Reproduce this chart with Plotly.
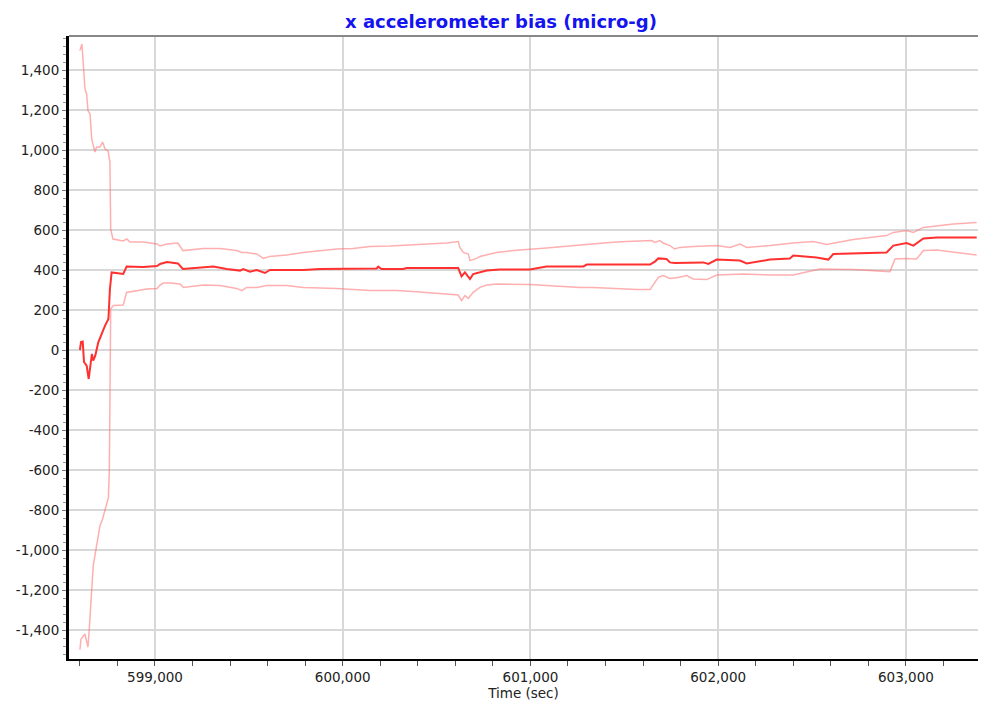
import plotly.graph_objects as go

# ---- data ----
center_t = [598600, 598606, 598615, 598622, 598636, 598647, 598657, 598664, 598671, 598682,
            598698, 598716, 598725, 598734, 598752, 598760, 598769, 598831, 598849, 598903,
            598936, 599011, 599027, 599064, 599122, 599149, 599257, 599311, 599382, 599453,
            599470, 599506, 599542, 599586, 599612, 599790, 599879, 600181, 600189, 600207,
            600322, 600341, 600615, 600624, 600633, 600651, 600678, 600695, 600731, 600767,
            600837, 600997, 601086, 601282, 601300, 601637, 601663, 601681, 601725, 601743,
            601769, 601921, 601948, 601992, 602116, 602152, 602276, 602382, 602400, 602524,
            602587, 602613, 602897, 602933, 603004, 603040, 603093, 603164, 603377]
center_v = [0, 40, 42, -60, -78, -145, -70, -20, -53, -28,
            38, 80, 105, 122, 155, 305, 388, 380, 418, 418,
            415, 420, 430, 440, 433, 405, 413, 418, 405, 397,
            405, 392, 400, 385, 400, 400, 405, 408, 417, 405,
            405, 410, 410, 388, 368, 388, 355, 380, 388, 397,
            403, 403, 417, 418, 427, 427, 442, 458, 455, 438,
            435, 438, 430, 452, 447, 433, 452, 458, 472, 463,
            452, 480, 488, 522, 535, 522, 558, 563, 563]

upper_t = [598600, 598611, 598627, 598636, 598643, 598654, 598663, 598671, 598680, 598689,
           598707, 598721, 598734, 598750, 598760, 598764, 598776, 598830, 598850, 598867,
           598936, 599011, 599027, 599064, 599122, 599149, 599186, 599257, 599346, 599435,
           599462, 599488, 599542, 599577, 599612, 599701, 599790, 599879, 599968, 600055,
           600145, 600252, 600376, 600465, 600554, 600615, 600624, 600642, 600669, 600678,
           600713, 600731, 600820, 600908, 600997, 601086, 601175, 601264, 601335, 601423,
           601512, 601601, 601646, 601663, 601690, 601707, 601743, 601769, 601796, 601867,
           601992, 602063, 602116, 602152, 602276, 602400, 602506, 602578, 602719, 602897,
           602933, 603004, 603040, 603093, 603253, 603377]
upper_v = [1497, 1530, 1305, 1280, 1197, 1180, 1055, 1015, 990, 1015,
           1015, 1040, 1005, 995, 940, 605, 555, 545, 555, 540,
           540, 530, 520, 530, 535, 497, 502, 508, 508, 497,
           488, 488, 480, 458, 468, 475, 488, 497, 505, 508,
           517, 520, 525, 530, 535, 542, 513, 488, 480, 447,
           458, 468, 488, 497, 505, 510, 517, 525, 530, 538,
           542, 547, 547, 538, 547, 535, 522, 505, 513, 517,
           522, 513, 530, 513, 522, 535, 542, 527, 552, 572,
           588, 597, 588, 613, 630, 638]

lower_t = [598600, 598606, 598627, 598643, 598650, 598663, 598671, 598686, 598692, 598707,
           598721, 598734, 598752, 598757, 598760, 598764, 598778, 598831, 598849, 598903,
           598956, 599011, 599027, 599044, 599080, 599133, 599151, 599257, 599346, 599435,
           599462, 599488, 599542, 599595, 599701, 599790, 599968, 600145, 600287, 600376,
           600465, 600554, 600615, 600633, 600651, 600669, 600695, 600731, 600767, 600820,
           600908, 600997, 601086, 601175, 601264, 601335, 601423, 601566, 601637, 601663,
           601681, 601707, 601743, 601787, 601832, 601867, 601939, 601992, 602134, 602276,
           602400, 602542, 602719, 602915, 602942, 603004, 603057, 603093, 603164, 603377]
lower_v = [-1498, -1445, -1420, -1485, -1395, -1228, -1078, -995, -962, -878,
           -845, -795, -737, -595, -228, 205, 222, 225, 288, 297,
           305, 308, 325, 335, 335, 330, 313, 325, 322, 308,
           297, 313, 313, 322, 322, 313, 308, 297, 297, 292,
           285, 280, 275, 247, 272, 258, 288, 313, 325, 330,
           330, 327, 322, 317, 312, 313, 308, 302, 302, 338,
           363, 372, 358, 363, 372, 355, 352, 375, 380, 375,
           375, 405, 402, 392, 455, 458, 455, 497, 500, 475]

x_tick_vals = [599000, 600000, 601000, 602000, 603000]
x_tick_text = ["599,000", "600,000", "601,000", "602,000", "603,000"]
y_tick_vals = [1400, 1200, 1000, 800, 600, 400, 200, 0, -200, -400, -600, -800, -1000, -1200, -1400]
y_tick_text = ["1,400", "1,200", "1,000", "800", "600", "400", "200", "0", "-200", "-400",
               "-600", "-800", "-1,000", "-1,200", "-1,400"]

title_text = "x accelerometer bias (micro-g)"
x_title = "Time (sec)"

FONT = "DejaVu Sans"
bound_color = "rgba(255,110,110,0.55)"

fig = go.Figure()
fig.add_trace(go.Scatter(x=upper_t, y=upper_v, mode="lines",
                         line=dict(color=bound_color, width=1.5), showlegend=False))
fig.add_trace(go.Scatter(x=lower_t, y=lower_v, mode="lines",
                         line=dict(color=bound_color, width=1.5), showlegend=False))
fig.add_trace(go.Scatter(x=center_t, y=center_v, mode="lines",
                         line=dict(color="#ff3030", width=2), showlegend=False))

fig.update_layout(
    width=970, height=693,
    margin=dict(l=61, r=0, t=28, b=42),
    paper_bgcolor="white", plot_bgcolor="white",
    font=dict(family=FONT, size=13.5, color="#222222"),
    annotations=[dict(text="<b>" + title_text + "</b>", xref="paper", yref="paper",
                      x=0.475, y=1.0, xanchor="center", yanchor="bottom", yshift=2,
                      showarrow=False,
                      font=dict(family=FONT, size=18, color="#1414f0"))],
    xaxis=dict(range=[598542, 603384], tickmode="array", tickvals=x_tick_vals,
               ticktext=x_tick_text, showgrid=True, gridcolor="#d8d8d8", gridwidth=2,
               showline=True, linecolor="black", linewidth=2,
               ticks="outside", ticklen=5, tickcolor="#555555", zeroline=False,
               minor=dict(tick0=598600, dtick=200, ticks="outside", ticklen=5,
                          tickcolor="#555555", showgrid=False),
               title=dict(text=x_title, font=dict(size=13.5), standoff=2),
               tickfont=dict(size=13.5)),
    yaxis=dict(range=[-1545, 1570], tickmode="array", tickvals=y_tick_vals,
               ticktext=y_tick_text, showgrid=True, gridcolor="#d8d8d8", gridwidth=2,
               showline=True, linecolor="black", linewidth=3,
               ticks="outside", ticklen=4, tickcolor="#777777", zeroline=False,
               minor=dict(tick0=0, dtick=40, ticks="outside", ticklen=3,
                          tickcolor="#999999", showgrid=False),
               tickfont=dict(size=13.5)),
    shapes=[dict(type="line", xref="paper", yref="paper", x0=0, x1=1, y0=1, y1=1,
                 line=dict(color="#888888", width=2))],
)

fig.write_html("out.html")
